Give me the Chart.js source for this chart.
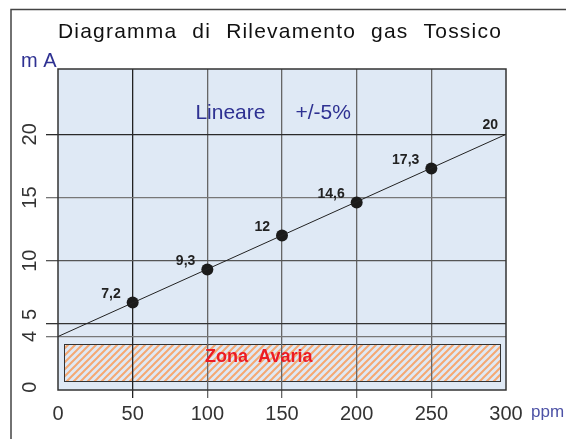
<!DOCTYPE html>
<html><head><meta charset="utf-8">
<script src="https://cdn.jsdelivr.net/npm/chart.js@4/dist/chart.umd.min.js"></script>
<style>html,body{margin:0;padding:0;background:#fff;overflow:hidden}#wrap{width:566px;height:439px;position:relative}</style>
</head><body><div id="wrap"><canvas id="c" width="566" height="439"></canvas></div>
<script>
const chartTitle = 'Diagramma di Rilevamento gas Tossico';
const yUnit = 'm A';
const xUnit = 'ppm';
const xTicks = [0, 50, 100, 150, 200, 250, 300];
const yTicks = [0, 4, 5, 10, 15, 20];
const linePpm = [0, 300];
const lineMa = [4, 20];
const pointPpm = [50, 100, 150, 200, 250];
const pointMa = [6.7, 9.3, 12, 14.6, 17.3];
const pointLabels = ['7,2', '9,3', '12', '14,6', '17,3'];
const lineEndLabel = '20';
const zonePpm = [4, 296];
const zoneMa = [0.43, 3.39];
const zoneLabel = 'Zona  Avaria';
const noteLabels = ['Lineare', '+/-5%'];

const FONT = '"Liberation Sans", Arial, Helvetica, sans-serif';

function makePattern() {
  const s = 7;
  const c = document.createElement('canvas');
  c.width = s; c.height = s;
  const g = c.getContext('2d');
  g.strokeStyle = '#f5a872';
  g.lineWidth = 2;
  g.beginPath();
  g.moveTo(-1, s + 1); g.lineTo(s + 1, -1);
  g.moveTo(-1, 1); g.lineTo(1, -1);
  g.moveTo(s - 1, s + 1); g.lineTo(s + 1, s - 1);
  g.stroke();
  return document.getElementById('c').getContext('2d').createPattern(c, 'repeat');
}
const hatch = makePattern();

const xGridColor = v => (v === 0 || v === 300) ? 'rgba(0,0,0,0)' : (v === 50 ? '#222' : '#666');
const yGridColor = v => ({0: 'rgba(0,0,0,0)', 4: '#777', 5: '#333', 10: '#555', 15: '#777', 20: '#2a2a2a'})[v] || '#555';

const deco = {
  id: 'deco',
  beforeDraw(chart) {
    const {ctx, chartArea: a, scales: {x, y}} = chart;
    ctx.save();
    ctx.fillStyle = '#dfe9f5';
    ctx.fillRect(a.left, a.top, a.right - a.left, a.bottom - a.top);
    const x0 = x.getPixelForValue(zonePpm[0]), x1 = x.getPixelForValue(zonePpm[1]);
    const y0 = y.getPixelForValue(zoneMa[1]), y1 = y.getPixelForValue(zoneMa[0]);
    ctx.fillStyle = hatch;
    ctx.fillRect(x0, y0, x1 - x0, y1 - y0);
    ctx.strokeStyle = '#333';
    ctx.lineWidth = 1;
    ctx.strokeRect(Math.round(x0) + 0.5, Math.round(y0) + 0.5, Math.round(x1 - x0), Math.round(y1 - y0));
    ctx.restore();
  },
  afterDatasetsDraw(chart) {
    const {ctx, chartArea: a, scales: {x, y}} = chart;
    ctx.save();
    ctx.strokeStyle = '#333';
    ctx.lineWidth = 1.5;
    ctx.strokeRect(a.left, a.top, a.right - a.left, a.bottom - a.top);

    // point labels
    ctx.font = 'bold 14px ' + FONT;
    ctx.fillStyle = '#222';
    ctx.textAlign = 'right';
    ctx.textBaseline = 'middle';
    pointPpm.forEach((p, i) => {
      ctx.fillText(pointLabels[i], x.getPixelForValue(p) - 12, y.getPixelForValue(pointMa[i]) - 8);
    });
    ctx.fillText(lineEndLabel, x.getPixelForValue(linePpm[1]) - 8, y.getPixelForValue(lineMa[1]) - 9);

    // note
    ctx.font = '21px ' + FONT;
    ctx.fillStyle = '#2e3192';
    ctx.textAlign = 'left';
    ctx.textBaseline = 'alphabetic';
    ctx.fillText(noteLabels[0], x.getPixelForValue(92), y.getPixelForValue(21.2));
    ctx.fillText(noteLabels[1], x.getPixelForValue(159), y.getPixelForValue(21.2));

    // zone label
    ctx.font = 'bold 18px ' + FONT;
    ctx.fillStyle = '#ec1c24';
    ctx.textBaseline = 'middle';
    ctx.fillText(zoneLabel, x.getPixelForValue(98.5), y.getPixelForValue(2.4));
    ctx.restore();
  },
  afterDraw(chart) {
    const {ctx, chartArea: a, scales: {y}} = chart;
    ctx.save();
    // frame
    ctx.strokeStyle = '#444';
    ctx.lineWidth = 1.5;
    ctx.beginPath();
    ctx.moveTo(11, 439); ctx.lineTo(11, 9.5); ctx.lineTo(566, 9.5);
    ctx.stroke();

    // title
    ctx.font = '21px ' + FONT;
    ctx.fillStyle = '#111';
    ctx.textAlign = 'left';
    ctx.textBaseline = 'alphabetic';
    try { ctx.letterSpacing = '1.2px'; ctx.wordSpacing = '8px'; } catch (e) {}
    ctx.fillText(chartTitle, a.left, 38);
    try { ctx.letterSpacing = '0px'; ctx.wordSpacing = '0px'; } catch (e) {}

    // units
    ctx.font = '20px ' + FONT;
    ctx.fillStyle = '#2e3192';
    ctx.fillText(yUnit, 21, 67);
    ctx.font = '17px ' + FONT;
    ctx.fillStyle = '#4d52a6';
    ctx.textBaseline = 'middle';
    ctx.fillText(xUnit, a.right + 25, 412);

    // y tick labels (rotated)
    ctx.font = '20px ' + FONT;
    ctx.fillStyle = '#333';
    ctx.textAlign = 'center';
    ctx.textBaseline = 'middle';
    let prev = null;
    yTicks.slice().sort((m, n) => m - n).forEach(v => {
      let p = y.getPixelForValue(v);
      if (prev !== null && prev - p < 20) p = prev - 22;
      ctx.save();
      ctx.translate(30.5, p);
      ctx.rotate(-Math.PI / 2);
      ctx.fillText(String(v), 0, 0);
      ctx.restore();
      prev = p;
    });
    ctx.restore();
  }
};

new Chart(document.getElementById('c'), {
  type: 'scatter',
  data: {
    datasets: [
      {
        type: 'line',
        data: linePpm.map((v, i) => ({x: v, y: lineMa[i]})),
        borderColor: '#222', borderWidth: 1, pointRadius: 0, fill: false, tension: 0
      },
      {
        data: pointPpm.map((v, i) => ({x: v, y: pointMa[i]})),
        pointRadius: 6, pointHoverRadius: 6,
        backgroundColor: '#1b1b1b', borderColor: '#1b1b1b', borderWidth: 0
      }
    ]
  },
  options: {
    responsive: false, animation: false, events: [],
    layout: {padding: {top: 69, right: 60, left: 0, bottom: 0}},
    plugins: {legend: {display: false}, tooltip: {enabled: false}, title: {display: false}},
    scales: {
      x: {
        type: 'linear', min: 0, max: 300,
        afterBuildTicks(s) { s.ticks = xTicks.map(v => ({value: v})); },
        afterFit(s) { s.height = 49; },
        grid: {color: c => xGridColor(c.tick ? c.tick.value : null), lineWidth: 1.3, tickLength: 8},
        border: {display: false},
        ticks: {font: {size: 20, family: FONT}, color: '#333', padding: 4, maxRotation: 0, autoSkip: false}
      },
      y: {
        type: 'linear', min: -0.23, max: 25.17,
        afterBuildTicks(s) { s.ticks = yTicks.map(v => ({value: v})); },
        afterFit(s) { s.width = 58; },
        grid: {color: c => yGridColor(c.tick ? c.tick.value : null), lineWidth: 1.3, tickLength: 12},
        border: {display: false},
        ticks: {display: false}
      }
    }
  },
  plugins: [deco]
});
</script>
</body></html>
